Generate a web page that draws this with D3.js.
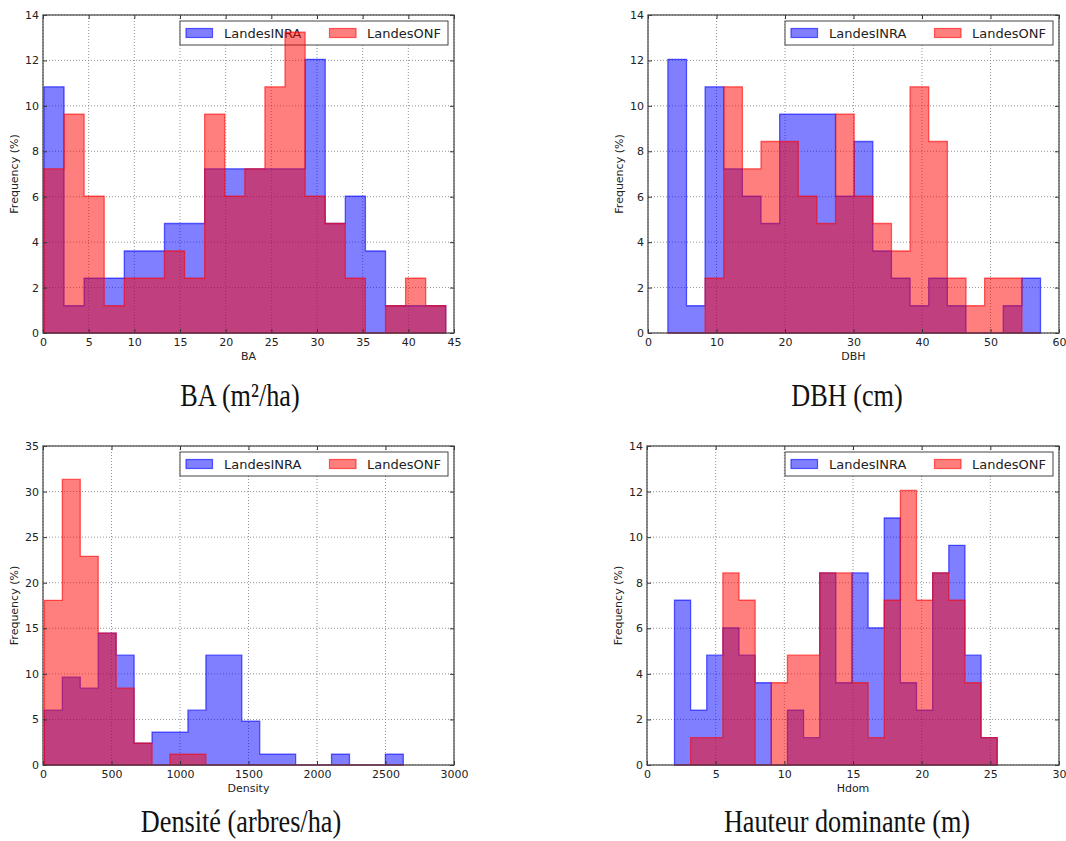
<!DOCTYPE html>
<html><head><meta charset="utf-8">
<script src="https://cdn.jsdelivr.net/npm/d3@7"></script>
<style>body{margin:0;background:#fff} svg{display:block}</style>
</head><body><svg id="c" width="1066" height="841"></svg>
<script>
// ---------- DATA (frequencies in %) ----------
const seriesNames = ["LandesINRA", "LandesONF"];

const baEdges = [0.1, 2.3, 4.5, 6.7, 8.9, 11.1, 13.3, 15.5, 17.7, 19.9, 22.1, 24.3, 26.5, 28.7, 30.9, 33.1, 35.3, 37.5, 39.7, 41.9, 44.1];
const baINRA  = [10.84, 1.20, 2.41, 2.41, 3.61, 3.61, 4.82, 4.82, 7.23, 7.23, 7.23, 7.23, 7.23, 12.05, 4.82, 6.02, 3.61, 1.20, 1.20, 1.20];
const baONF   = [7.23, 9.64, 6.02, 1.20, 2.41, 2.41, 3.61, 2.41, 9.64, 6.02, 7.23, 10.84, 13.25, 6.02, 4.82, 2.41, 0, 1.20, 2.41, 1.20];
const baXTicks = [0, 5, 10, 15, 20, 25, 30, 35, 40, 45];
const baYTicks = [0, 2, 4, 6, 8, 10, 12, 14];

const dbhEdges = [2.9, 5.62, 8.34, 11.06, 13.78, 16.5, 19.22, 21.94, 24.66, 27.38, 30.1, 32.82, 35.54, 38.26, 40.98, 43.7, 46.42, 49.14, 51.86, 54.58, 57.3];
const dbhINRA  = [12.05, 1.20, 10.84, 7.23, 6.02, 4.82, 9.64, 9.64, 9.64, 6.02, 8.43, 3.61, 2.41, 1.20, 2.41, 1.20, 0, 0, 1.20, 2.41];
const dbhONF   = [0, 0, 2.41, 10.84, 7.23, 8.43, 8.43, 6.02, 4.82, 9.64, 6.02, 4.82, 3.61, 10.84, 8.43, 2.41, 1.20, 2.41, 2.41, 0];
const dbhXTicks = [0, 10, 20, 30, 40, 50, 60];
const dbhYTicks = [0, 2, 4, 6, 8, 10, 12, 14];

const denEdges = [10, 141, 272, 403, 534, 665, 796, 927, 1058, 1189, 1320, 1451, 1582, 1713, 1844, 1975, 2106, 2237, 2368, 2499, 2630];
const denINRA  = [6.02, 9.64, 8.43, 14.46, 12.05, 2.41, 3.61, 3.61, 6.02, 12.05, 12.05, 4.82, 1.20, 1.20, 0, 0, 1.20, 0, 0, 1.20];
const denONF   = [18.07, 31.33, 22.89, 14.46, 8.43, 2.41, 0, 1.20, 1.20, 0, 0, 0, 0, 0, 0, 0, 0, 0, 0, 0];
const denXTicks = [0, 500, 1000, 1500, 2000, 2500, 3000];
const denYTicks = [0, 5, 10, 15, 20, 25, 30, 35];

const hdEdges = [2.0, 3.175, 4.35, 5.525, 6.7, 7.875, 9.05, 10.225, 11.4, 12.575, 13.75, 14.925, 16.1, 17.275, 18.45, 19.625, 20.8, 21.975, 23.15, 24.325, 25.5];
const hdINRA  = [7.23, 2.41, 4.82, 6.02, 4.82, 3.61, 0, 2.41, 1.20, 8.43, 3.61, 8.43, 6.02, 10.84, 3.61, 2.41, 8.43, 9.64, 4.82, 1.20];
const hdONF   = [0, 1.20, 1.20, 8.43, 7.23, 0, 3.61, 4.82, 4.82, 8.43, 8.43, 3.61, 1.20, 7.23, 12.05, 7.23, 8.43, 7.23, 3.61, 1.20];
const hdXTicks = [0, 5, 10, 15, 20, 25, 30];
const hdYTicks = [0, 2, 4, 6, 8, 10, 12, 14];

const xLabels  = ["BA", "DBH", "Density", "Hdom"];
const captions = ["BA (m\u00B2/ha)", "DBH (cm)", "Densit\u00E9 (arbres/ha)", "Hauteur dominante (m)"];

// ---------- LAYOUT ----------
const panels = [
  {edges: baEdges, a: baINRA, b: baONF, xt: baXTicks, yt: baYTicks, L: 43, R: 454, T: 15, B: 333, cx: 240, cy: 406},
  {edges: dbhEdges, a: dbhINRA, b: dbhONF, xt: dbhXTicks, yt: dbhYTicks, L: 648, R: 1059, T: 15, B: 333, cx: 847, cy: 406},
  {edges: denEdges, a: denINRA, b: denONF, xt: denXTicks, yt: denYTicks, L: 43, R: 454, T: 446, B: 765, cx: 241, cy: 832},
  {edges: hdEdges, a: hdINRA, b: hdONF, xt: hdXTicks, yt: hdYTicks, L: 647, R: 1059, T: 446, B: 765, cx: 847, cy: 832}
];
const colors = ["#0000ff", "#ff0000"];
const svg = d3.select("#c");
const font = "'DejaVu Sans', sans-serif";

panels.forEach((p, i) => {
  const x = d3.scaleLinear().domain([p.xt[0], p.xt[p.xt.length - 1]]).range([p.L, p.R]);
  const y = d3.scaleLinear().domain([p.yt[0], p.yt[p.yt.length - 1]]).range([p.B, p.T]);
  const g = svg.append("g");

  // grid
  const grid = g.append("g").attr("stroke", "#777").attr("stroke-width", 0.8).attr("stroke-dasharray", "1,2");
  p.xt.forEach(t => grid.append("line").attr("x1", x(t)).attr("x2", x(t)).attr("y1", p.T).attr("y2", p.B));
  p.yt.forEach(t => grid.append("line").attr("x1", p.L).attr("x2", p.R).attr("y1", y(t)).attr("y2", y(t)));

  // legend (drawn beneath the histograms, as in the reference)
  const lx = p.R - 6 - 268, ly = p.T + 6;
  const lg = g.append("g").attr("transform", `translate(${lx},${ly})`);
  lg.append("rect").attr("width", 268).attr("height", 24).attr("fill", "#fff").attr("stroke", "#444").attr("stroke-width", 1);
  const offs = [[6, 44], [149.5, 187]];
  seriesNames.forEach((nm, k) => {
    lg.append("rect").attr("x", offs[k][0]).attr("y", 7.5).attr("width", 26.5).attr("height", 9)
      .attr("fill", colors[k]).attr("fill-opacity", 0.5).attr("stroke", colors[k]).attr("stroke-opacity", 0.6).attr("stroke-width", 1.2);
    lg.append("text").attr("x", offs[k][1]).attr("y", 16.8).style("font-family", font).style("font-size", "13px")
      .attr("fill", "#222").text(nm);
  });

  // step-filled histograms
  [p.a, p.b].forEach((vals, k) => {
    const pts = [[p.edges[0], 0]];
    vals.forEach((v, j) => { pts.push([p.edges[j], v]); pts.push([p.edges[j + 1], v]); });
    pts.push([p.edges[p.edges.length - 1], 0]);
    const line = d3.line().x(d => x(d[0])).y(d => y(d[1]));
    g.append("path").attr("d", line(pts) + "Z")
      .attr("fill", colors[k]).attr("fill-opacity", 0.5)
      .attr("stroke", colors[k]).attr("stroke-opacity", 0.6).attr("stroke-width", 1.3)
      .attr("stroke-linejoin", "miter");
  });

  // axes (inward ticks on all sides)
  const ax = (axis, tx, ty) => {
    const a = g.append("g").attr("transform", `translate(${tx},${ty})`).call(axis);
    a.select(".domain").remove();
    a.selectAll("line").attr("stroke", "#333");
    a.selectAll("text").attr("fill", "#222").style("font-family", font).style("font-size", "11px");
    return a;
  };
  ax(d3.axisBottom(x).tickValues(p.xt).tickSizeInner(-4).tickSizeOuter(0).tickPadding(5).tickFormat(d3.format("d")), 0, p.B);
  ax(d3.axisTop(x).tickValues(p.xt).tickSizeInner(-4).tickSizeOuter(0).tickFormat(""), 0, p.T);
  ax(d3.axisLeft(y).tickValues(p.yt).tickSizeInner(-4).tickSizeOuter(0).tickPadding(4).tickFormat(d3.format("d")), p.L, 0);
  ax(d3.axisRight(y).tickValues(p.yt).tickSizeInner(-4).tickSizeOuter(0).tickFormat(""), p.R, 0);

  // frame
  g.append("rect").attr("x", p.L).attr("y", p.T).attr("width", p.R - p.L).attr("height", p.B - p.T)
    .attr("fill", "none").attr("stroke", "#444").attr("stroke-width", 1.2);

  // axis labels
  g.append("text").attr("x", (p.L + p.R) / 2).attr("y", p.B + 26.5).attr("text-anchor", "middle")
    .style("font-family", font).style("font-size", "11px").attr("fill", "#222").text(xLabels[i]);
  g.append("text").attr("transform", `translate(${p.L - 25},${(p.T + p.B) / 2}) rotate(-90)`)
    .attr("text-anchor", "middle").style("font-family", font).style("font-size", "11px").attr("fill", "#222")
    .text("Frequency (%)");

  // caption
  svg.append("text").attr("transform", `translate(${p.cx},${p.cy}) scale(0.82,1)`).attr("text-anchor", "middle")
    .style("font-family", "'Liberation Serif', 'Times New Roman', serif").style("font-size", "32px").attr("fill", "#111")
    .text(captions[i]);
});
</script></body></html>
